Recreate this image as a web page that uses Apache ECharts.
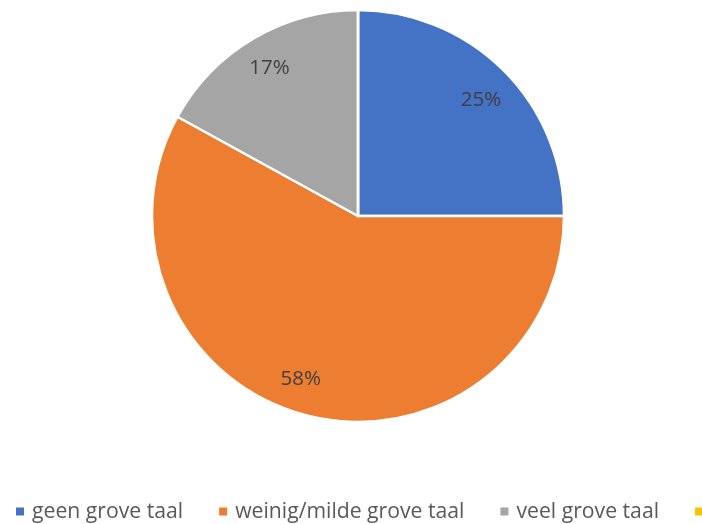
<!DOCTYPE html>
<html>
<head>
<meta charset="utf-8">
<script src="https://cdn.jsdelivr.net/npm/echarts@6/dist/echarts.min.js"></script>
<style>html,body{margin:0;padding:0;background:#fff;}#c{width:702px;height:524px;}</style>
</head>
<body>
<div id="c"></div>
<script>
const categories = ['geen grove taal', 'weinig/milde grove taal', 'veel grove taal', ' '];
const values = [25, 58, 17, 0];
const colors = ['#4472C4', '#ED7D31', '#A5A5A5', '#FFC000'];
// small per-label nudges so the percentage labels sit where the reference has them
const labelNudge = [[0, 7], [-14, -5], [0, 2], [0, 0]];

const chart = echarts.init(document.getElementById('c'));
const total = values.reduce((a, b) => a + b, 0);
const mainData = categories.map((n, i) => ({ name: n, value: values[i], itemStyle: { color: colors[i] } }));
const labelData = categories.map((n, i) => ({ name: n, value: values[i], label: { offset: labelNudge[i] } }));

chart.setOption({
  animation: false,
  backgroundColor: '#ffffff',
  legend: {
    data: categories,
    left: 16,
    top: 501,
    width: 760,
    padding: 0,
    itemWidth: 8,
    itemHeight: 8,
    itemGap: 36,
    icon: 'rect',
    itemStyle: { borderWidth: 0 },
    textStyle: { fontFamily: 'Open Sans', fontSize: 21.2, color: '#595959', padding: [0, 0, 0, 3] }
  },
  series: [
    {
      type: 'pie',
      center: [358, 216],
      radius: [0, 206],
      startAngle: 90,
      clockwise: true,
      silent: true,
      itemStyle: { borderColor: '#ffffff', borderWidth: 2.5 },
      label: { show: false },
      labelLine: { show: false },
      data: mainData
    },
    {
      type: 'pie',
      center: [358, 216],
      radius: [136, 206],
      startAngle: 90,
      clockwise: true,
      silent: true,
      legendHoverLink: false,
      itemStyle: { color: 'rgba(0,0,0,0)', borderWidth: 0 },
      label: {
        show: true,
        position: 'inside',
        fontFamily: 'Open Sans',
        fontSize: 20.5,
        color: '#404040',
        formatter: p => p.value > 0 ? Math.round(p.value / total * 100) + '%' : ''
      },
      labelLine: { show: false },
      data: labelData
    }
  ]
});
</script>
</body>
</html>
